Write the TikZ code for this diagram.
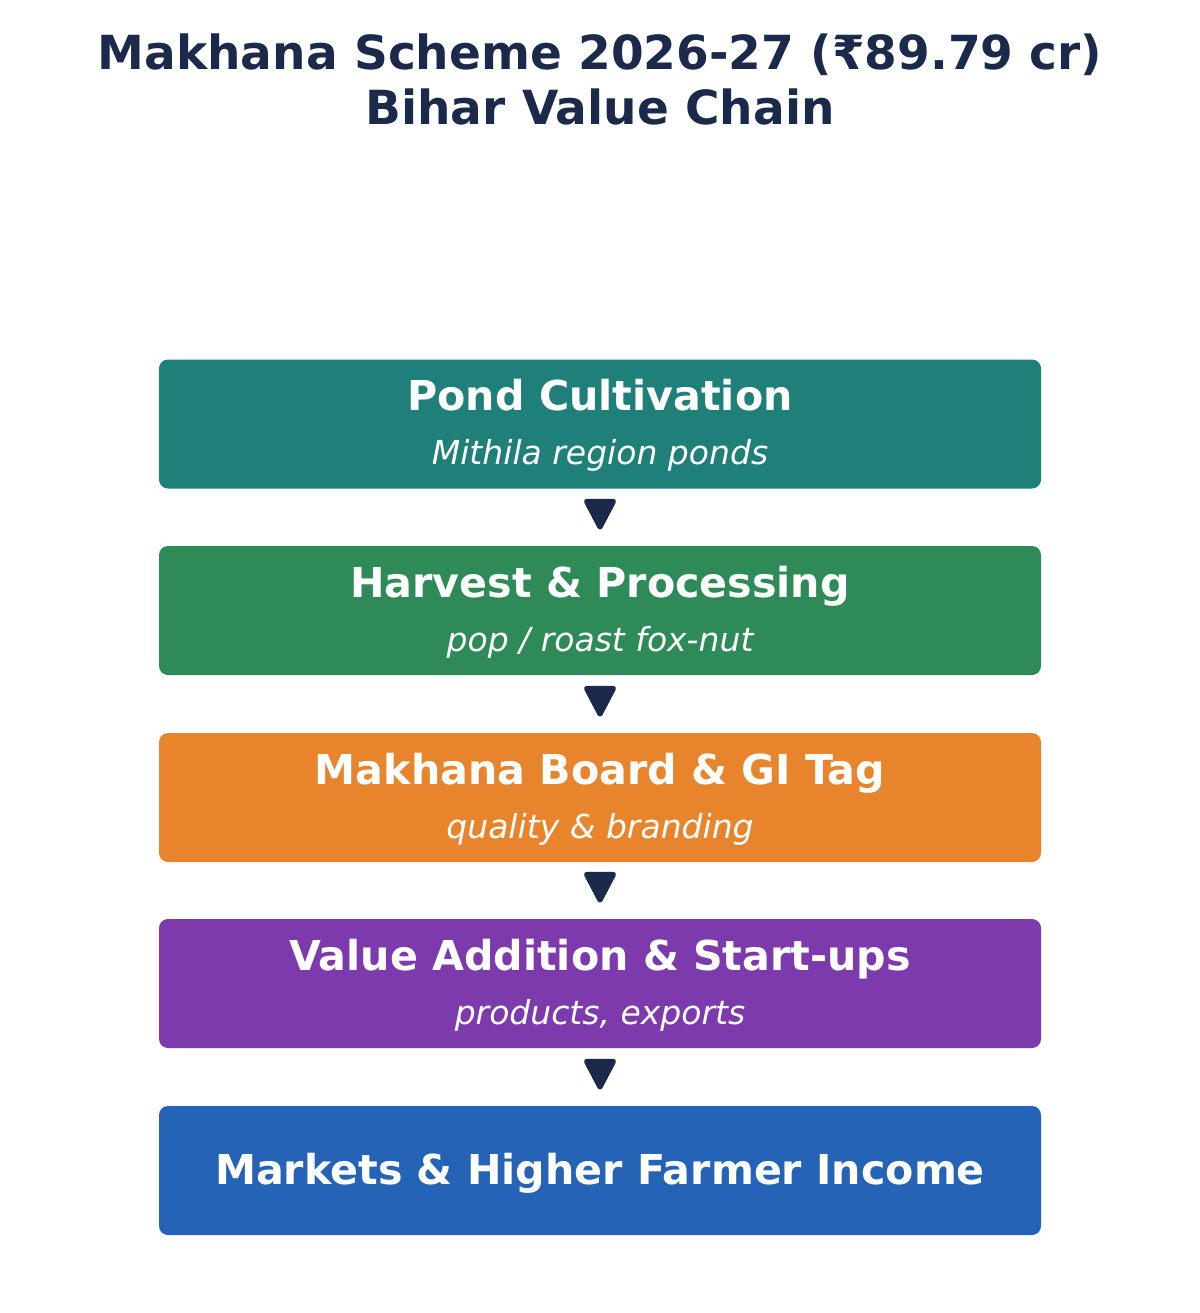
\documentclass[tikz,border=0pt]{standalone}
\usepackage{fontspec}
\setmainfont{DejaVu Sans}
\usetikzlibrary{arrows.meta}

\definecolor{navy}{HTML}{1B2A4A}
\definecolor{pondteal}{HTML}{1F7F79}
\definecolor{harvgreen}{HTML}{2E8B57}
\definecolor{boardorange}{HTML}{E8852C}
\definecolor{startpurple}{HTML}{7D3AAD}
\definecolor{marketblue}{HTML}{2563B6}

\tikzset{
  stagebox/.style={rectangle, rounded corners=4.5pt, minimum width=441pt, minimum height=64.5pt, inner sep=0pt},
  stagehead/.style={anchor=base, text=white, font=\fontsize{20.6}{24}\selectfont\bfseries},
  stagesub/.style={anchor=base, text=white, font=\fontsize{16.5}{19}\selectfont\itshape},
  flowarr/.style={navy, line width=2.6pt, -{Triangle[length=17pt, width=17pt, round]}, shorten <=6pt, shorten >=8pt}
}

\begin{document}
\begin{tikzpicture}[x=0.5pt, y=-0.5pt]

\useasboundingbox (0,0) rectangle (1200,1313);

% Title
\node [anchor=base, text=navy, font=\fontsize{23.5}{27}\selectfont\bfseries] (title1) at (600,69) {Makhana Scheme 2026-27 (₹89.79 cr)};
\node [anchor=base, text=navy, font=\fontsize{23.5}{27}\selectfont\bfseries] (title2) at (600,124) {Bihar Value Chain};

% Stage boxes
\node [stagebox, fill=pondteal]    (pond)    at (600,424)  {};
\node [stagebox, fill=harvgreen]   (harvest) at (600,610.5) {};
\node [stagebox, fill=boardorange] (board)   at (600,797.5) {};
\node [stagebox, fill=startpurple] (startup) at (600,983.5) {};
\node [stagebox, fill=marketblue]  (market)  at (600,1170.5) {};

% Stage texts
\node [stagehead] at (600,410)  {Pond Cultivation};
\node [stagesub]  at (600,464)  {Mithila region ponds};
\node [stagehead] at (600,597)  {Harvest \& Processing};
\node [stagesub]  at (600,651)  {pop / roast fox-nut};
\node [stagehead] at (600,784)  {Makhana Board \& GI Tag};
\node [stagesub]  at (600,838)  {quality \& branding};
\node [stagehead] at (600,970)  {Value Addition \& Start-ups};
\node [stagesub]  at (600,1024) {products, exports};
\node [stagehead] at (600,1184) {Markets \& Higher Farmer Income};

% Arrows between stages
\draw [flowarr] (pond.south)    -- (harvest.north);
\draw [flowarr] (harvest.south) -- (board.north);
\draw [flowarr] (board.south)   -- (startup.north);
\draw [flowarr] (startup.south) -- (market.north);

\end{tikzpicture}
\end{document}
